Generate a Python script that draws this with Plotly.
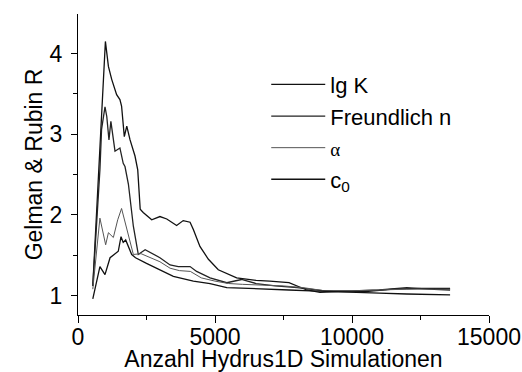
import plotly.graph_objects as go

# ---- data ----
names = ["lg K", "Freundlich n",
         "<span style='font-family:Liberation Serif;font-size:19px'>α</span>",
         "c<sub>0</sub>"]

lgK_x = [540, 1000, 1110, 1230, 1410, 1530, 1590, 1690, 1780, 1900, 2080, 2180,
         2270, 2380, 2690, 2990, 3240, 3600, 3840, 4090, 4210, 4450, 4760, 5120,
         5790, 6500, 7000, 7700, 8350, 8830, 9500, 10500, 11500, 12500, 13580]
lgK_y = [1.12, 4.15, 3.84, 3.68, 3.49, 3.43, 3.35, 2.97, 3.10, 2.93, 2.73, 2.56,
         2.07, 2.03, 1.94, 1.98, 1.95, 1.87, 1.93, 1.91, 1.82, 1.61, 1.45, 1.32,
         1.22, 1.19, 1.18, 1.16, 1.07, 1.04, 1.05, 1.05, 1.08, 1.09, 1.09]

fn_x = [540, 800, 860, 985, 1050, 1130, 1200, 1350, 1530, 1650, 1715, 1840,
        2020, 2200, 2450, 2700, 2990, 3360, 3660, 4090, 4330, 4820, 5430, 5970,
        6500, 7200, 8000, 9000, 10000, 11000, 12000, 12800, 13580]
fn_y = [1.12, 2.56, 3.06, 3.34, 3.22, 2.93, 3.16, 2.79, 2.83, 2.64, 2.60, 2.38,
        1.86, 1.51, 1.57, 1.52, 1.47, 1.38, 1.36, 1.36, 1.30, 1.22, 1.16, 1.20,
        1.15, 1.12, 1.10, 1.06, 1.06, 1.07, 1.10, 1.08, 1.07]

alpha_x = [540, 800, 1010, 1110, 1290, 1450, 1590, 1840, 2020, 2300, 2600, 2990,
           3360, 3700, 4100, 4500, 5000, 5500, 6000, 6700, 7500, 8200, 9000,
           10000, 11000, 12000, 13000, 13580]
alpha_y = [1.08, 1.96, 1.63, 1.78, 1.72, 1.94, 2.08, 1.73, 1.51, 1.52, 1.48, 1.42,
           1.34, 1.31, 1.30, 1.22, 1.18, 1.15, 1.14, 1.13, 1.12, 1.10, 1.06,
           1.06, 1.07, 1.08, 1.08, 1.08]

c0_x = [540, 800, 985, 1170, 1470, 1570, 1650, 1740, 1960, 2100, 2500, 2990,
        3480, 4210, 4820, 5430, 6040, 7000, 7700, 8500, 9200, 10000, 11000,
        12000, 13000, 13580]
c0_y = [0.96, 1.36, 1.26, 1.47, 1.55, 1.73, 1.66, 1.69, 1.51, 1.47, 1.40, 1.32,
        1.24, 1.18, 1.15, 1.10, 1.09, 1.08, 1.07, 1.06, 1.05, 1.04, 1.03,
        1.02, 1.01, 1.01]

x_ticks = [0, 5000, 10000, 15000]
x_ticktext = ["0", "5000", "10000", "15000"]
y_ticks = [1, 2, 3, 4]
y_ticktext = ["1", "2", "3", "4"]
x_title = "Anzahl Hydrus1D Simulationen"
y_title = "Gelman & Rubin R"

series = [(lgK_x, lgK_y, "#111111", 1.3),
          (fn_x, fn_y, "#222222", 1.3),
          (alpha_x, alpha_y, "#555555", 1.0),
          (c0_x, c0_y, "#111111", 1.3)]

FONT = "Liberation Sans, Arial, sans-serif"
TF = dict(family=FONT, size=23, color="black")

fig = go.Figure()
for (xs, ys, col, w), nm in zip(series, names):
    fig.add_trace(go.Scatter(x=xs, y=ys, mode="lines", name=nm,
                             line=dict(color=col, width=w)))

fig.update_layout(
    width=522, height=372,
    margin=dict(l=78, r=33, t=14, b=57),
    paper_bgcolor="white", plot_bgcolor="white",
    font=TF,
    showlegend=True,
    legend=dict(x=0.458, y=0.835, xanchor="left", yanchor="top",
                bgcolor="rgba(0,0,0,0)", font=dict(family=FONT, size=22, color="black"),
                tracegroupgap=0, itemwidth=54),
)
fig.update_xaxes(
    range=[0, 15000], tickmode="array", tickvals=x_ticks, ticktext=x_ticktext,
    tickfont=TF, ticks="outside", ticklen=7, tickcolor="black",
    tickwidth=1.3, showline=True, linecolor="black", linewidth=1.3,
    showgrid=False, zeroline=False, ticklabelstandoff=-6,
    minor=dict(tickvals=[2500, 7500, 12500], ticks="outside", ticklen=4,
               tickwidth=1.3, tickcolor="black", showgrid=False),
    title=dict(text=x_title, font=TF, standoff=6), automargin=False,
)
fig.update_yaxes(
    range=[0.76, 4.49], tickmode="array", tickvals=y_ticks, ticktext=y_ticktext,
    tickfont=TF, ticks="outside", ticklen=6, tickcolor="black",
    tickwidth=1.3, showline=True, linecolor="black", linewidth=1.3,
    showgrid=False, zeroline=False, ticklabelstandoff=4,
    minor=dict(tickvals=[1.5, 2.5, 3.5], ticks="outside", ticklen=4,
               tickwidth=1.3, tickcolor="black", showgrid=False),
    title=dict(text=y_title, font=TF, standoff=0), automargin=False,
)

fig.write_html("out.html")
